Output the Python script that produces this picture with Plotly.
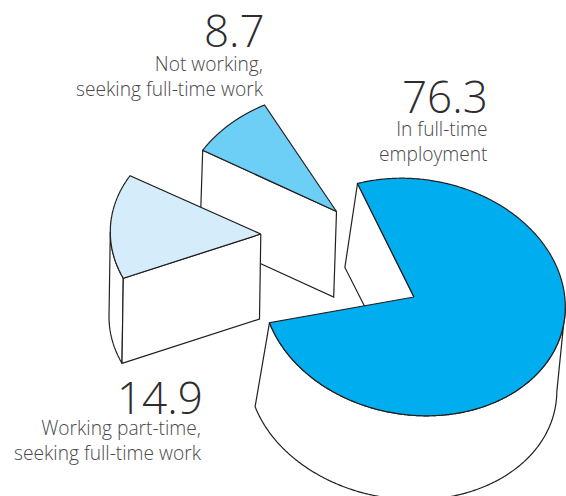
import numpy as np
import plotly.graph_objects as go

# Share of workers by employment status, per cent
categories = ["In full-time<br>employment",
              "Working part-time,<br>seeking full-time work",
              "Not working,<br>seeking full-time work"]
values = [76.3, 14.9, 8.7]
fill_colors = ["#00AEEF", "#D5EDFB", "#6DCFF6"]

OUTLINE = "#231F20"
VALUE_COLOR = "#2E2C2D"
LABEL_COLOR = "#4A4849"
FONT = "Open Sans"

# Each wedge sits at its own exploded position: apex, the two rim points
# bounding it on screen, the extrusion offset and the base widening.
placement = [
    dict(apex=(414.0, 297.0), rim_start=(357.5, 183.5), rim_end=(269.5, 322.7),
         depth=(-11.5, 84.0), base_scale=1.02),
    dict(apex=(260.8, 234.0), rim_start=(123.3, 278.3), rim_end=(130.0, 175.7),
         depth=(-1.3, 85.0), base_scale=1.0),
    dict(apex=(336.5, 211.5), rim_start=(202.7, 150.3), rim_end=(264.5, 105.0),
         depth=(-2.8, 85.5), base_scale=1.0),
]
# Back wedge first so the nearer ones overlap it
draw_order = [2, 1, 0]


def wedge_frame(value, spot):
    """Affine image of a circular wedge whose sweep comes from the value."""
    sweep = np.radians(value * 3.6)
    apex = np.array(spot["apex"])
    u = np.array(spot["rim_start"]) - apex
    v = (np.array(spot["rim_end"]) - apex - u * np.cos(sweep)) / np.sin(sweep)
    return sweep, apex, u, v


def polygon(xs, ys, fill):
    return go.Scatter(x=xs, y=ys, mode="lines", fill="toself", fillcolor=fill,
                      line=dict(color=OUTLINE, width=1.2, simplify=False),
                      hoverinfo="skip", showlegend=False)


fig = go.Figure()

for i in draw_order:
    spot = placement[i]
    sweep, apex, u, v = wedge_frame(values[i], spot)
    depth = np.array(spot["depth"])
    base_x = spot["base_scale"]

    theta = np.linspace(0, sweep, 500)
    top = apex[:, None] + np.outer(u, np.cos(theta)) + np.outer(v, np.sin(theta))
    base = top + depth[:, None]
    base[0] = apex[0] + depth[0] + (top[0] - apex[0]) * base_x

    # Outer wall: only the stretch of rim that faces the viewer
    facing = (-u[0] * np.sin(theta) + v[0] * np.cos(theta)) < 0
    if facing.any():
        wall_x = np.r_[top[0][facing], base[0][facing][::-1]]
        wall_y = np.r_[top[1][facing], base[1][facing][::-1]]
        fig.add_trace(polygon(np.r_[wall_x, wall_x[0]], np.r_[wall_y, wall_y[0]],
                              "#FFFFFF"))

    # Cut face along the first radius
    fig.add_trace(polygon(
        [apex[0], top[0][0], base[0][0], apex[0] + depth[0], apex[0]],
        [apex[1], top[1][0], base[1][0], apex[1] + depth[1], apex[1]],
        "#FFFFFF"))

    # Coloured top surface
    fig.add_trace(polygon(
        np.r_[apex[0], top[0], apex[0]],
        np.r_[apex[1], top[1], apex[1]],
        fill_colors[i]))

# Value and caption text blocks: right edges and vertical centres
text_blocks = [
    dict(value_right=489.5, value_y=95.5, label_right=489.5, label_y=140.5),
    dict(value_right=205, value_y=396.5, label_right=204, label_y=439.5),
    dict(value_right=266.5, value_y=30, label_right=265.5, label_y=75.5),
]
annotations = []
for i, block in enumerate(text_blocks):
    annotations.append(dict(
        x=block["value_right"], y=block["value_y"], text=f"{values[i]:.1f}",
        xref="x", yref="y", xanchor="right", yanchor="middle", showarrow=False,
        font=dict(family=FONT, size=44, color=VALUE_COLOR, weight=300)))
    annotations.append(dict(
        x=block["label_right"], y=block["label_y"], text=categories[i], align="right",
        xref="x", yref="y", xanchor="right", yanchor="middle", showarrow=False,
        font=dict(family=FONT, size=19.2, color=LABEL_COLOR, weight=300)))

fig.update_layout(
    width=566, height=496, margin=dict(l=0, r=0, t=0, b=0),
    paper_bgcolor="#FFFFFF", plot_bgcolor="#FFFFFF", showlegend=False,
    xaxis=dict(range=[0, 566], visible=False, fixedrange=True),
    yaxis=dict(range=[496, 0], visible=False, fixedrange=True),
    annotations=annotations,
)

fig.write_html("out.html", config=dict(displayModeBar=False))
